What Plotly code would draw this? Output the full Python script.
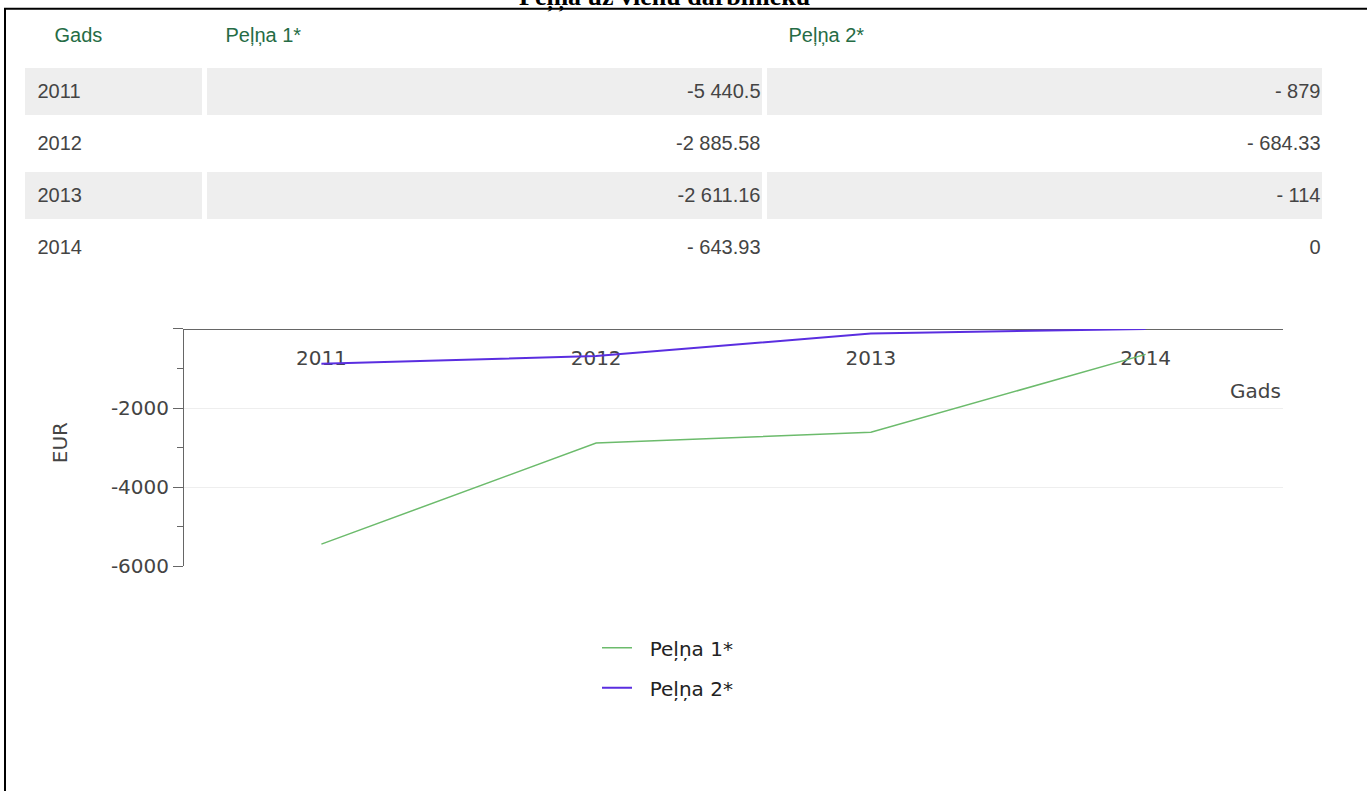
import plotly.graph_objects as go

# ---- data ----
years = ["2011", "2012", "2013", "2014"]
pelna1 = [-5440.5, -2885.58, -2611.16, -643.93]
pelna2 = [-879.0, -684.33, -114.0, 0.0]
series_names = ["Peļņa 1*", "Peļņa 2*"]
table_header = ["Gads", "Peļņa 1*", "Peļņa 2*"]
y_tickvals = [-6000, -4000, -2000, 0]
y_ticktext = ["-6000", "-4000", "-2000", ""]
y_minor = [-5000, -3000, -1000]
title_text = "Peļņa uz vienu darbinieku"

W, H = 1367, 791
TABLE_FONT = "Liberation Sans, Arial"
CHART_FONT = "DejaVu Sans"
CLEAR = "rgba(0,0,0,0)"


def fmt(v):
    if v == 0:
        return "0"
    sign = "-" if v < 0 else ""
    a = abs(v)
    th = int(a // 1000)
    rest = a - th * 1000
    rest_s = f"{rest:.2f}".rstrip("0").rstrip(".")
    th_s = str(th) if th else ""
    return f"{sign}{th_s} {rest_s}"


def px_x(p):
    return p / W


def px_y(p):
    return 1 - p / H


n = len(years)
row_fill = ["#eeeeee" if i % 2 == 0 else "#ffffff" for i in range(n)]
blank_col = [""] * n

fig = go.Figure()

# ---- table: cell backgrounds ----
fig.add_trace(go.Table(
    domain=dict(x=[px_x(22.5), px_x(1324.5)], y=[px_y(273.5), px_y(5.5)]),
    columnwidth=[182, 560, 560],
    header=dict(values=["", "", ""], fill=dict(color=CLEAR),
                line=dict(width=0, color=CLEAR), height=60),
    cells=dict(values=[blank_col, blank_col, blank_col],
               fill=dict(color=[row_fill, row_fill, row_fill]),
               line=dict(width=5, color="#ffffff"), height=52),
))

# ---- table: header text ----
fig.add_trace(go.Table(
    domain=dict(x=[px_x(46.5), px_x(1340.5)], y=[px_y(80), px_y(19.5)]),
    columnwidth=[171, 563, 560],
    header=dict(
        values=table_header, align="left",
        fill=dict(color=CLEAR), line=dict(width=0, color=CLEAR),
        font=dict(family=TABLE_FONT, size=20, color="#256c45"), height=56,
    ),
    cells=dict(values=[[], [], []], fill=dict(color=CLEAR),
               line=dict(width=0, color=CLEAR)),
))

# ---- table: cell text ----
fig.add_trace(go.Table(
    domain=dict(x=[px_x(29.5), px_x(1328.5)], y=[px_y(290), px_y(65.5)]),
    columnwidth=[182, 557, 560],
    header=dict(values=["", "", ""], fill=dict(color=CLEAR),
                line=dict(width=0, color=CLEAR), height=10),
    cells=dict(
        values=[years, [fmt(v) for v in pelna1], [fmt(v) for v in pelna2]],
        align=["left", "right", "right"],
        fill=dict(color=CLEAR), line=dict(width=0, color=CLEAR),
        font=dict(family=TABLE_FONT, size=20, color="#444444"), height=52,
    ),
))

# ---- lines ----
fig.add_trace(go.Scatter(
    x=years, y=pelna1, mode="lines", name="\u00a0\u00a0" + series_names[0],
    line=dict(color="#6cbb6c", width=1.5), cliponaxis=False,
    legendgroup="a",
))
fig.add_trace(go.Scatter(
    x=years, y=pelna2, mode="lines", name="\u00a0\u00a0" + series_names[1],
    line=dict(color="#5a2ee0", width=2), cliponaxis=False,
    legendgroup="b",
))

y_dom = [px_y(575), px_y(334)]
fig.update_layout(
    width=W, height=H,
    margin=dict(l=0, r=0, t=0, b=0),
    paper_bgcolor="white", plot_bgcolor="white",
    font=dict(family=CHART_FONT, size=20, color="#444444"),
    xaxis=dict(
        type="category", domain=[px_x(184), px_x(1283)], range=[-0.5, 3.5],
        anchor="free", position=y_dom[1], side="bottom",
        showline=True, linecolor="#666666", linewidth=1,
        showgrid=False, zeroline=False,
        ticks="outside", ticklen=11, tickcolor=CLEAR,
        tickfont=dict(family=CHART_FONT, size=20, color="#444444"),
        layer="below traces", fixedrange=True,
    ),
    yaxis=dict(
        domain=y_dom, range=[-6000, 0],
        tickvals=y_tickvals, ticktext=y_ticktext,
        ticks="outside", ticklen=10, tickcolor="#666666",
        showline=True, linecolor="#666666", linewidth=1,
        showgrid=True, gridcolor="#eeeeee", zeroline=False,
        minor=dict(tickvals=y_minor, ticks="outside", ticklen=6,
                   tickcolor="#666666", showgrid=False),
        tickfont=dict(family=CHART_FONT, size=20, color="#444444"),
        layer="below traces", fixedrange=True,
    ),
    legend=dict(
        x=px_x(597), y=px_y(638), xanchor="left", yanchor="top",
        orientation="v", itemwidth=30, tracegroupgap=11,
        font=dict(family=CHART_FONT, size=20, color="#222222"),
        bgcolor=CLEAR,
    ),
    showlegend=True,
)

fig.add_annotation(
    text="Gads", xref="paper", yref="paper",
    x=px_x(1283), y=px_y(397), xanchor="right", yanchor="middle",
    showarrow=False, font=dict(family=CHART_FONT, size=20, color="#444444"),
)
fig.add_annotation(
    text="EUR", xref="paper", yref="paper", textangle=-90,
    x=px_x(60), y=px_y(450), xanchor="center", yanchor="middle",
    showarrow=False, font=dict(family=CHART_FONT, size=20, color="#444444"),
)
fig.add_annotation(
    text="<b>" + title_text + "</b>", xref="paper", yref="paper",
    x=px_x(664), y=px_y(14), xanchor="center", yanchor="bottom",
    showarrow=False, font=dict(family="Liberation Serif", size=26, color="#000000"),
)

# border box
fig.add_shape(
    type="rect", xref="paper", yref="paper",
    x0=px_x(5), x1=1.05, y0=-0.05, y1=px_y(9),
    line=dict(color="black", width=2), fillcolor=CLEAR, layer="above",
)

fig.write_html("out.html")
